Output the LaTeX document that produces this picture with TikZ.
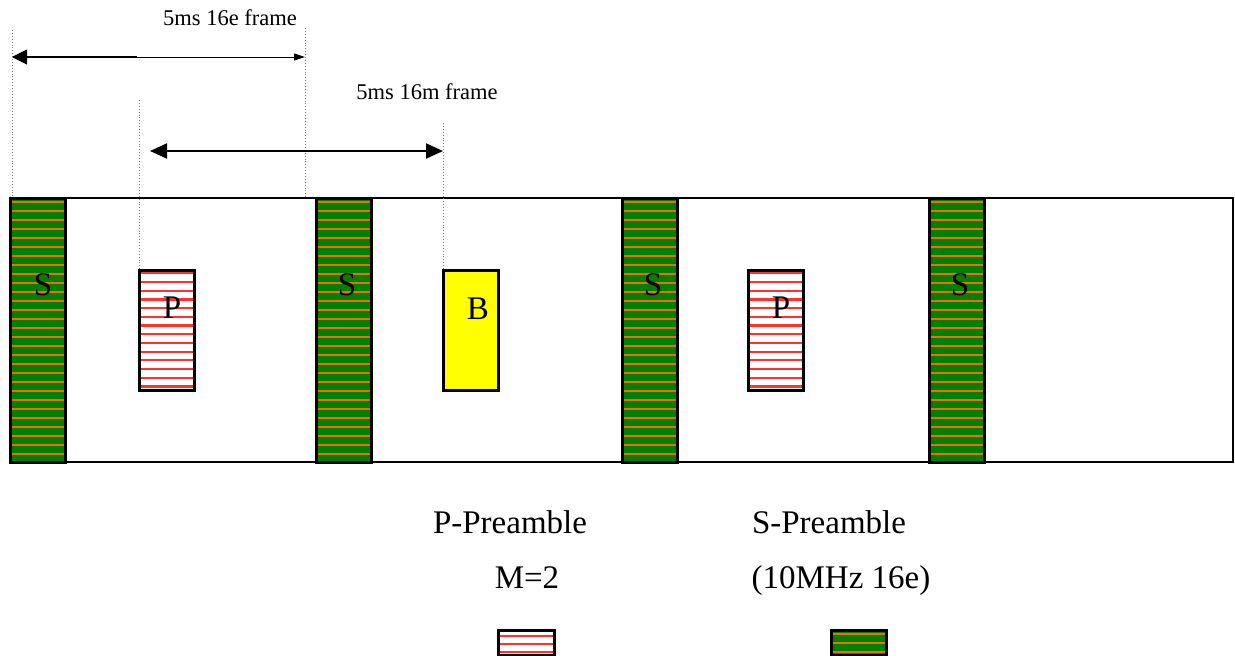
\documentclass[tikz,border=0pt]{standalone}
\usepackage{fontspec}
\setmainfont{Liberation Serif}
\usetikzlibrary{arrows.meta,calc}
\definecolor{sgreen}{RGB}{0,128,0}
\definecolor{sorange}{RGB}{240,110,0}
\definecolor{pred}{RGB}{255,50,50}
\definecolor{byellow}{RGB}{255,255,0}
\tikzset{
 blk/.style={draw=black, line width=3pt, inner sep=0pt, outer sep=0pt, minimum width=55pt, minimum height=#1, anchor=north west},
 sblock/.style={blk=264pt, fill=sgreen, path picture={\foreach \k in {0,...,29}{\draw[sorange,line width=2.2pt] ($(path picture bounding box.north west)+(0,4+\k*9)$) -- ++(80,0);}}},
 pblock/.style={blk=120pt, fill=white, path picture={\foreach \k in {0,...,13}{\draw[pred,line width=2.2pt] ($(path picture bounding box.north west)+(0,3.3+\k*8.7)$) -- ++(80,0);}}},
 bblock/.style={blk=120pt, fill=byellow},
 plegend/.style={blk=25pt, minimum width=56pt, fill=white, path picture={\foreach \k in {0,...,2}{\draw[pred,line width=2.2pt] ($(path picture bounding box.north west)+(0,5.7+\k*8.3)$) -- ++(80,0);}}},
 slegend/.style={blk=25pt, minimum width=55pt, fill=sgreen, path picture={\foreach \k in {0,...,2}{\draw[sorange,line width=2.2pt] ($(path picture bounding box.north west)+(0,4+\k*9)$) -- ++(80,0);}}},
 guide/.style={dotted, gray, line width=0.9pt},
 small/.style={font=\fontsize{22.5}{26}\selectfont, anchor=base},
 big/.style={font=\fontsize{33}{38}\selectfont, anchor=base},
}
\begin{document}
\begin{tikzpicture}[x=1pt,y=-1pt]
\useasboundingbox (0,0) rectangle (1235,656);
% main frame strip
\node[draw=black, line width=2.6pt, fill=white, inner sep=0pt, outer sep=0pt, minimum width=1223pt, minimum height=264pt, anchor=north west] (frame) at (10,198) {};
% S blocks
\node[sblock] (s1) at (10,198) {};
\node[sblock] (s2) at (316,198) {};
\node[sblock] (s3) at (622,198) {};
\node[sblock] (s4) at (929,198) {};
\node[big] (ls1) at (43,295) {S};
\node[big] (ls2) at (347,295) {S};
\node[big] (ls3) at (653,295) {S};
\node[big] (ls4) at (960,295) {S};
% P and B blocks
\node[pblock] (p1) at (139,270) {};
\node[bblock] (b1) at (443,270) {};
\node[pblock] (p2) at (748,270) {};
\node[big] (lp1) at (172,318) {P};
\node[big] (lb1) at (478,319) {B};
\node[big] (lp2) at (781,318) {P};
% guide lines
\coordinate (g1) at (12,30);
\coordinate (g2) at (305,28);
\coordinate (g3) at (139,100);
\coordinate (g4) at (443,123);
\draw[guide] (g1) -- (g1 |- frame.north);
\draw[guide] (g2) -- (g2 |- frame.north);
\draw[guide] (g3) -- (p1.north west);
\draw[guide] (g4) -- (b1.north west);
% arrow 16e frame
\coordinate (a1l) at (12,57);
\coordinate (a1m) at (137,57);
\coordinate (a1r) at (305,57);
\draw[line width=2.4pt] ($(a1l)+(12,0)$) -- (a1m);
\draw[line width=1pt, {Triangle[length=15pt,width=15pt]}-{Triangle[length=11pt,width=7pt]}] (a1l) -- (a1r);
\node[small] (t1) at (230,25) {5ms 16e frame};
% arrow 16m frame
\coordinate (a2l) at (150,151);
\coordinate (a2r) at (443,151);
\draw[line width=2pt, {Triangle[length=17pt,width=15pt]}-{Triangle[length=17pt,width=15pt]}] (a2l) -- (a2r);
\node[small] (t2) at (427,99) {5ms 16m frame};
% legend
\node[big] (lg1) at (510,533) {P-Preamble};
\node[big] (lg2) at (527,588) {M=2};
\node[big] (lg3) at (829,533) {S-Preamble};
\node[big] (lg4) at (841,588) {(10MHz 16e)};
\node[plegend] (lgp) at (498,630) {};
\node[slegend] (lgs) at (831,630) {};
\end{tikzpicture}
\end{document}
